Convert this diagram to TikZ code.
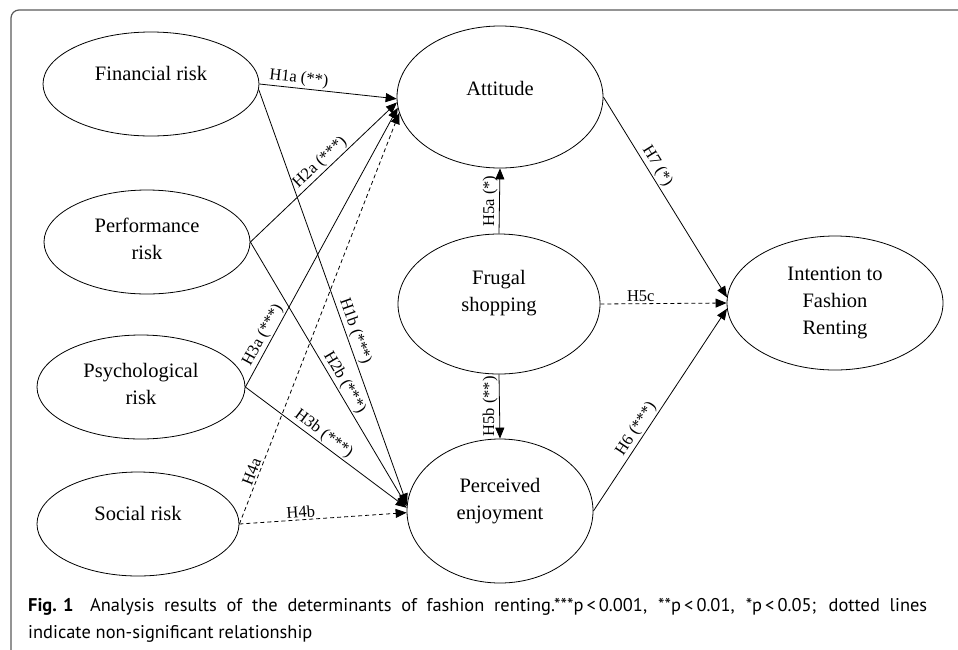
\documentclass[tikz,border=0pt]{standalone}
\usepackage{fontspec}
\setmainfont{Liberation Serif}
\newfontfamily\capfont{PT Sans}
\usetikzlibrary{shapes.geometric,arrows.meta}
\definecolor{framegray}{RGB}{90,90,90}
\begin{document}
\begin{tikzpicture}[x=1pt,y=-1pt,
 ell/.style={draw, ellipse, inner sep=0pt, line width=0.8pt},
 ntext/.style={font=\fontsize{20.5}{27}\selectfont, align=center, inner sep=0pt},
 conn/.style={line width=0.8pt, -{Triangle[length=11pt,width=9pt]}},
 dconn/.style={conn, dash pattern=on 4pt off 3pt},
 hl/.style={font=\fontsize{16.5}{18}\selectfont, inner sep=1.5pt, sloped, above},
 vl/.style={font=\fontsize{16.5}{18}\selectfont, inner sep=1.5pt, rotate=90, anchor=south, midway},
 captext/.style={font=\capfont\fontsize{18.4}{27}\selectfont, inner sep=0pt, anchor=base west}
]
\useasboundingbox (0,0) rectangle (958,649);
\clip (0,0) rectangle (958,649);
\draw[line width=1.2pt, framegray, rounded corners=8pt] (980,10) -- (11,10) -- (11,662) -- (980,662);

% ellipses
\node[ell, minimum width=216pt, minimum height=104pt] (fin) at (151,84) {};
\node[ntext] (fint) at (151,73) {Financial risk};
\node[ell, minimum width=206pt, minimum height=104pt] (perf) at (147,242) {};
\node[ntext] (perft) at (147,238.5) {Performance\\risk};
\node[ell, minimum width=208pt, minimum height=104pt] (psy) at (141,387) {};
\node[ntext] (psyt) at (141,384) {Psychological\\risk};
\node[ell, minimum width=202pt, minimum height=104pt] (soc) at (138,524) {};
\node[ntext] (soct) at (138,513) {Social risk};
\node[ell, minimum width=206pt, minimum height=142pt] (att) at (500,97) {};
\node[ntext] (attt) at (500,88) {Attitude};
\node[ell, minimum width=202pt, minimum height=140pt] (fru) at (499,304) {};
\node[ntext] (frut) at (499,293.5) {Frugal\\shopping};
\node[ell, minimum width=186pt, minimum height=144pt] (per) at (500,511) {};
\node[ntext] (pert) at (500,501.5) {Perceived\\enjoyment};
\node[ell, minimum width=216pt, minimum height=134pt] (int) at (835,303) {};
\node[ntext] (intt) at (835,303) {Intention to\\Fashion\\Renting};

% connectors
\draw[conn] (fin.east) -- node[hl,pos=0.28]{H1a (**)} (att.181);
\draw[conn] (fin.357) -- node[hl,pos=0.59]{H1b (***)} (per.176);
\draw[conn] (perf.east) -- node[hl,pos=0.52]{H2a (***)} (att.183);
\draw[conn] (perf.east) -- node[hl,pos=0.55]{H2b (***)} (per.177);
\draw[conn] (psy.east) -- node[hl,pos=0.17]{H3a (***)} (att.186);
\draw[conn] (psy.east) -- node[hl,pos=0.45]{H3b (***)} (per.178);
\draw[dconn] (soc.east) -- node[hl,pos=0.12]{H4a} (att.189);
\draw[dconn] (soc.east) -- node[hl,pos=0.37]{H4b} (per.181);
\draw[conn] (fru.north) -- node[vl]{H5a (*)} (att.south);
\draw[conn] (fru.south) -- node[vl]{H5b (**)} (per.north);
\draw[dconn] (fru.east) -- node[hl,pos=0.32]{H5c} (int.west);
\draw[conn] (att.east) -- node[hl,pos=0.37]{H7 (*)} (int.177);
\draw[conn] (per.east) -- node[hl,pos=0.38]{H6 (***)} (int.183);

% caption
\node[captext] (cap1) at (28,611) {\makebox[899pt][s]{\mbox{\textbf{Fig. 1}}\hspace{0.9em}Analysis results of the determinants of fashion renting.***p\,<\,0.001, **p\,<\,0.01, *p\,<\,0.05; dotted lines}};
\node[captext] (cap2) at (28,638) {indicate non-significant relationship};
\end{tikzpicture}
\end{document}
